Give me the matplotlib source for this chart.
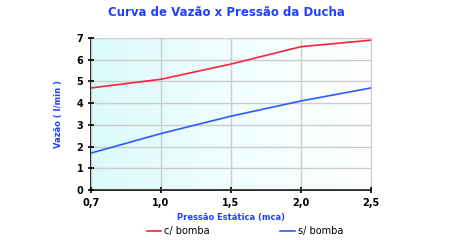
import numpy as np
import matplotlib.pyplot as plt
from matplotlib.colors import LinearSegmentedColormap

pressao = ['0,7', '1,0', '1,5', '2,0', '2,5']
com_bomba = [4.7, 5.1, 5.8, 6.6, 6.9]
sem_bomba = [1.7, 2.6, 3.4, 4.1, 4.7]

fig = plt.figure(figsize=(4.52, 2.4), dpi=100)
ax = fig.add_axes([91/452, 50/240, 280/452, 152/240])

x = np.arange(len(pressao))

# fundo em degradê ciano -> branco
cmap = LinearSegmentedColormap.from_list('bg', ['#dcfafa', '#f0fefe', '#ffffff'])
grad = np.linspace(0, 1, 256).reshape(1, -1)
ax.imshow(grad, extent=[0, 4, 0, 7], aspect='auto', cmap=cmap, zorder=0)

ax.plot(x, com_bomba, color='#ff2040', lw=1.2, label='c/ bomba', zorder=3)
ax.plot(x, sem_bomba, color='#2a5cff', lw=1.2, label='s/ bomba', zorder=3)

ax.set_xlim(0, 4)
ax.set_ylim(0, 7)
ax.set_xticks(x)
ax.set_xticklabels(pressao, fontsize=7, fontweight='bold')
ax.set_yticks(range(8))
ax.set_yticklabels([str(v) for v in range(8)], fontsize=7, fontweight='bold')
ax.grid(True, color='#cccccc', lw=1, zorder=1)
ax.set_axisbelow(False)

for s in ['top', 'right']:
    ax.spines[s].set_color('#cccccc')
for s in ['left', 'bottom']:
    ax.spines[s].set_color('black')
    ax.spines[s].set_linewidth(1.2)
ax.tick_params(direction='inout', length=5, width=1.2, pad=3)

ax.set_xlabel('Pressão Estática (mca)', fontsize=6, fontweight='bold', color='#2040ff', labelpad=4)
ax.set_ylabel('Vazão ( l/min )', fontsize=6, fontweight='bold', color='#2040ff', labelpad=10)

fig.text(0.5, 1 - 13/240, 'Curva de Vazão x Pressão da Ducha', ha='center', va='center',
         fontsize=8.5, fontweight='bold', color='#2040ff')

fig.legend(loc='center', bbox_to_anchor=(0.542, 1 - 231/240), ncol=2, frameon=False,
           fontsize=7, handlelength=1.5, columnspacing=7.25, handletextpad=0.3)

fig.savefig('out.png', dpi=100)
